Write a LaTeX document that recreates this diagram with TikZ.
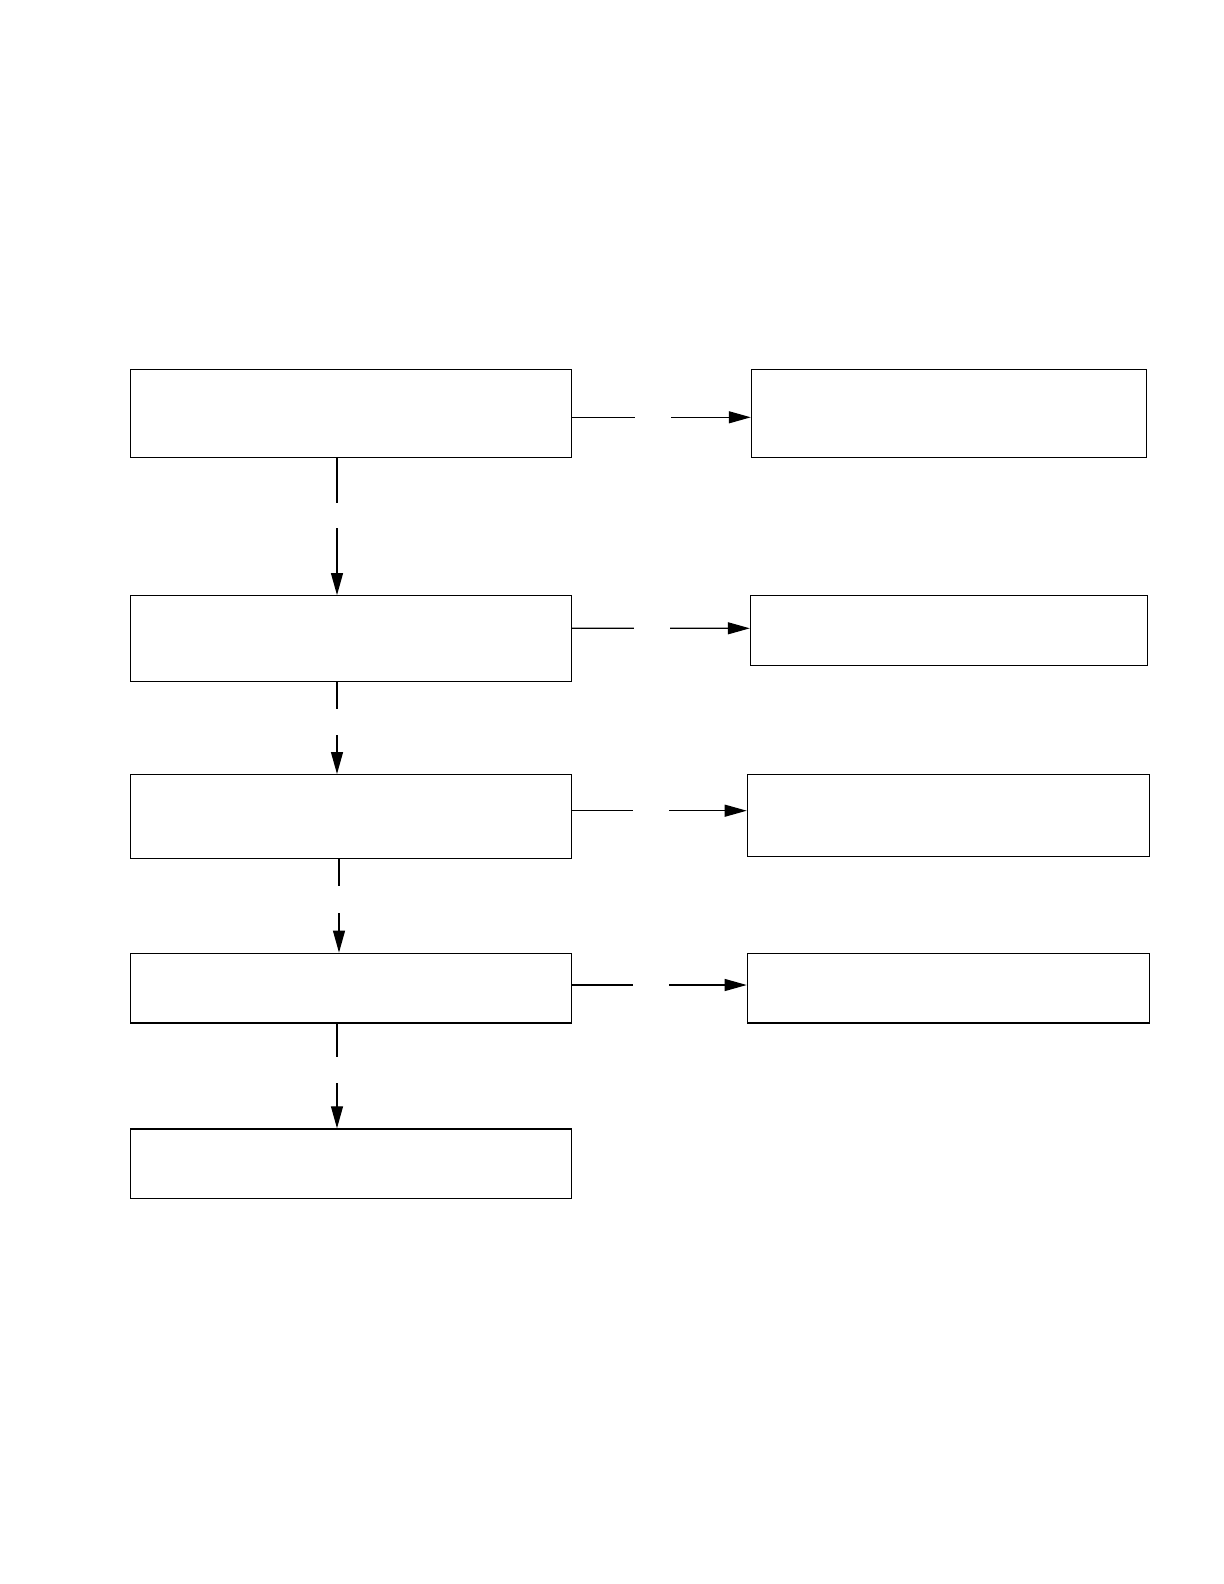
\documentclass[tikz,border=0pt]{standalone}
\usepackage{xcolor}
\usepackage{tikz}
\usetikzlibrary{arrows.meta, positioning, calc}
\tikzstyle{stage} = [
    rectangle, 
    minimum width=220.6pt, 
    draw=black, 
    line width=0.6pt,
    fill=white
]
\tikzstyle{outcome} = [
    rectangle, 
    draw=black, 
    line width=0.6pt,
    fill=white
]
\tikzstyle{arrow} = [
    line width=0.6pt, 
    -{Triangle[length=11pt, width=6pt]}, 
    color=black
]
\tikzstyle{gap} = [
    fill=white, 
    inner sep=0pt
]

\begin{document}
\begin{tikzpicture}[x=0.5pt, y=-0.5pt]
        \useasboundingbox (0,0) rectangle (1224,1584);
        % Nodes - left column
        \node[stage, minimum height=44pt] (s1) at (351, 413.5) {};
        \node[stage, minimum height=43pt] (s2) at (351, 638.7) {};
        \node[stage, minimum height=41.9pt] (s3) at (351, 816.5) {};
        \node[stage, minimum height=34.9pt] (s4) at (351, 988.1) {};
        \node[stage, minimum height=34.9pt] (s5) at (351, 1163.8) {};
        
        % Nodes - right column
        \node[outcome, minimum width=197.4pt, minimum height=44pt] (o1) at (948.8, 413.5) {};
        \node[outcome, minimum width=198.4pt, minimum height=34.9pt] (o2) at (948.8, 630.6) {};
        \node[outcome, minimum width=201pt, minimum height=40.9pt] (o3) at (948.3, 815.5) {};
        \node[outcome, minimum width=201pt, minimum height=34.9pt] (o4) at (948.3, 988.1) {};
        
        % Flow arrows - down
        \draw[arrow] ([xshift=-7pt]s1.south) -- node[gap, pos=0.42, minimum width=3pt, minimum height=12.5pt]{} ([xshift=-7pt]s2.north);
        \draw[arrow] ([xshift=-7pt]s2.south) -- node[gap, pos=0.43, minimum width=3pt, minimum height=13pt]{} ([xshift=-7pt]s3.north);
        \draw[arrow] ([xshift=-6pt]s3.south) -- node[gap, pos=0.43, minimum width=3pt, minimum height=13.3pt]{} ([xshift=-6pt]s4.north);
        \draw[arrow] ([xshift=-7pt]s4.south) -- node[gap, pos=0.44, minimum width=3pt, minimum height=13pt]{} ([xshift=-7pt]s5.north);
        
        % Flow arrows - right
        \draw[arrow] ([yshift=-1.9pt]s1.east) -- node[gap, pos=0.45, minimum width=18pt, minimum height=3pt]{} ([yshift=-1.9pt]o1.west);
        \draw[arrow] ([yshift=5.2pt]s2.east) -- node[gap, pos=0.45, minimum width=18pt, minimum height=3pt]{} ([yshift=1.15pt]o2.west);
        \draw[arrow] ([yshift=2.9pt]s3.east) -- node[gap, pos=0.45, minimum width=18pt, minimum height=3pt]{} ([yshift=2.4pt]o3.west);
        \draw[arrow] ([yshift=1.55pt]s4.east) -- node[gap, pos=0.45, minimum width=18pt, minimum height=3pt]{} ([yshift=1.55pt]o4.west);
    \end{tikzpicture}
\end{document}
